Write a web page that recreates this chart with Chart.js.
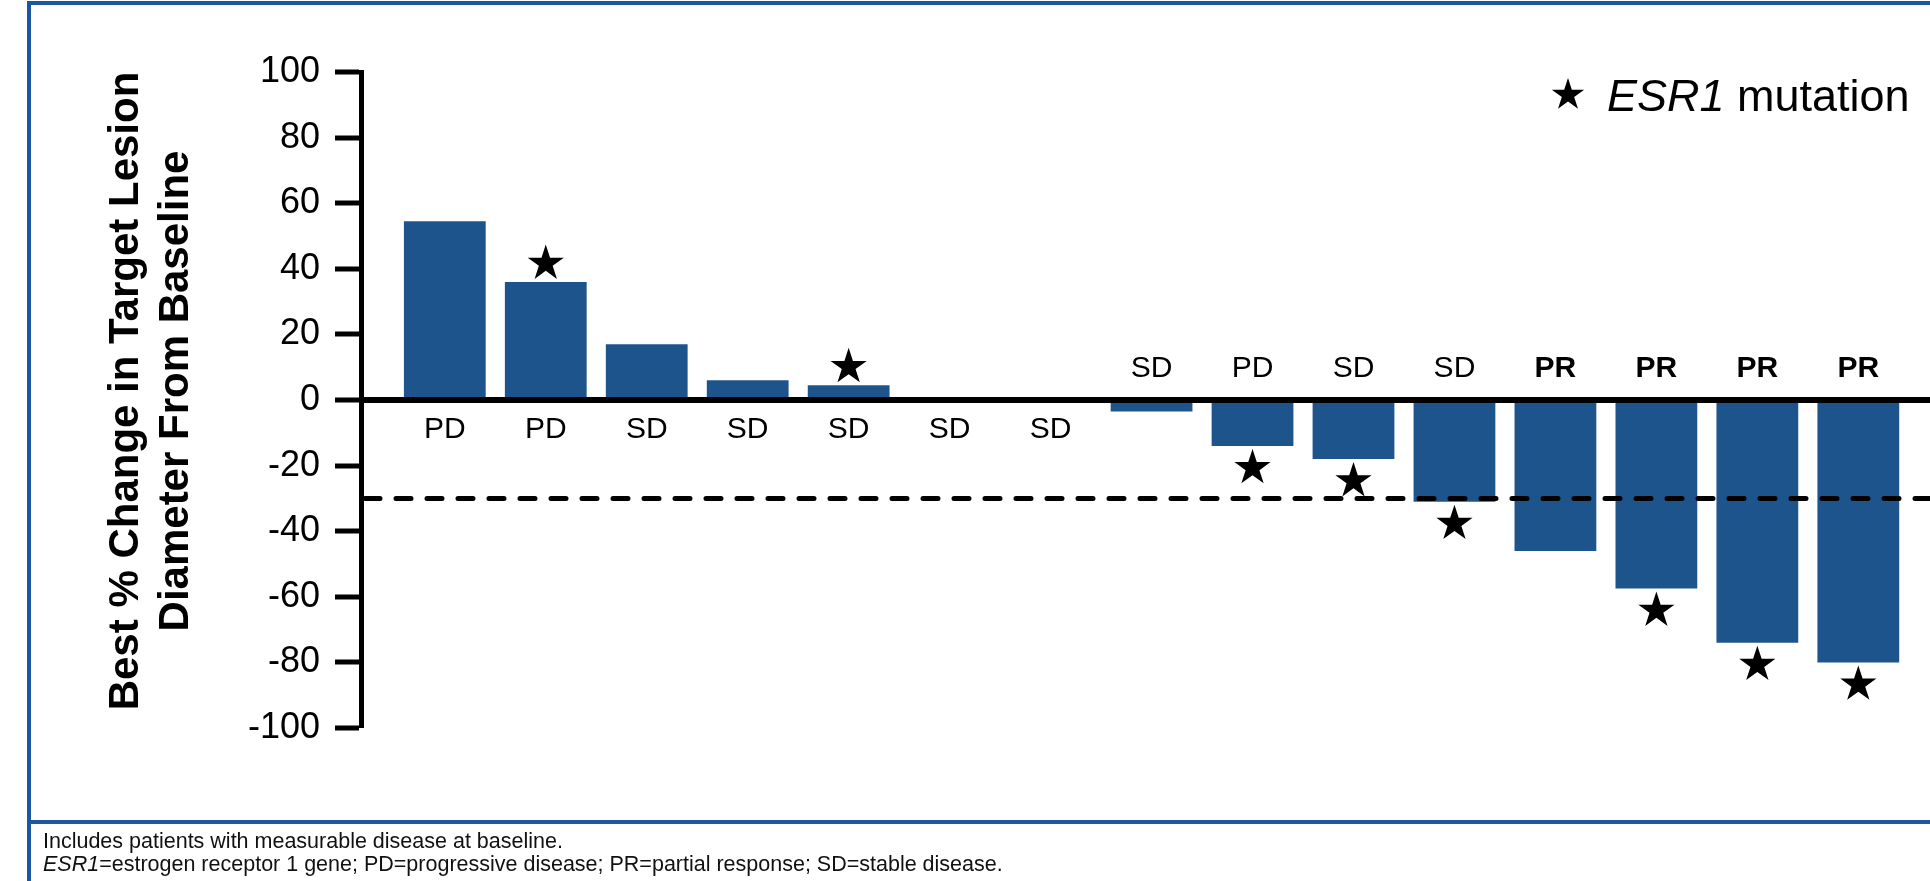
<!DOCTYPE html>
<html>
<head>
<meta charset="utf-8">
<title>Best % Change in Target Lesion Diameter</title>
<script src="https://cdn.jsdelivr.net/npm/chart.js@4.4.1/dist/chart.umd.min.js"></script>
<style>
  body { margin: 0; background: #fff; }
  #wrap { position: relative; width: 1930px; height: 881px; overflow: hidden; font-family: 'Liberation Sans', Arial, sans-serif; }
  #waterfallChart { position: absolute; left: 0; top: 0; }
  .frame { position: absolute; background: #1c58a0; }
  .notes { position: absolute; left: 43px; top: 830px; font-size: 21.5px; line-height: 23px; color: #111; white-space: nowrap; }
</style>
</head>
<body>
<div id="wrap">
  <canvas id="waterfallChart" width="1930" height="881"></canvas>
  <div class="frame" style="left:27px; top:1px; width:1903px; height:4px;"></div>
  <div class="frame" style="left:27px; top:1px; width:4px; height:880px;"></div>
  <div class="frame" style="left:27px; top:820px; width:1903px; height:4px;"></div>
  <div class="notes">
    Includes patients with measurable disease at baseline.<br>
    <i>ESR1</i>=estrogen receptor 1 gene; PD=progressive disease; PR=partial response; SD=stable disease.
  </div>
</div>
<script>
// Best response per patient (waterfall)
const responses = ['PD', 'PD', 'SD', 'SD', 'SD', 'SD', 'SD', 'SD', 'PD', 'SD', 'SD', 'PR', 'PR', 'PR', 'PR'];
const changes = [54.5, 36, 17, 6, 4.5, 0, 0, -3.5, -14, -18, -31, -46, -57.5, -74, -80];
const esr1Mutation = [false, true, false, false, true, false, false, false, true, true, true, false, true, true, true];
const yMin = -100;
const yMax = 100;
const yStep = 20;
const responseLine = -30;
const yTitle = ['Best % Change in Target Lesion', 'Diameter From Baseline'];

const FONT = "'Liberation Sans', Arial, sans-serif";
const BAR_BLUE = '#1e548c';

function drawStar(ctx, cx, cy, R) {
    const r = R * 0.382;
    ctx.beginPath();
    for (let i = 0; i < 10; i++) {
        const rad = i % 2 === 0 ? R : r;
        const a = -Math.PI / 2 + i * Math.PI / 5;
        ctx.lineTo(cx + rad * Math.cos(a), cy + rad * Math.sin(a));
    }
    ctx.closePath();
    ctx.fill();
}

// dashed -30% line, ESR1 stars and response labels
const annotations = {
    id: 'annotations',
    afterDatasetsDraw(chart) {
        const ctx = chart.ctx;
        const area = chart.chartArea;
        const yScale = chart.scales.y;
        const bars = chart.getDatasetMeta(0).data;

        // PR threshold
        const yDash = yScale.getPixelForValue(responseLine);
        ctx.save();
        ctx.strokeStyle = '#000';
        ctx.lineWidth = 5;
        ctx.lineCap = 'round';
        ctx.setLineDash([15, 16]);
        ctx.beginPath();
        ctx.moveTo(area.left + 4, yDash);
        ctx.lineTo(area.right, yDash);
        ctx.stroke();
        ctx.restore();

        // stars
        const R = 19;
        ctx.save();
        ctx.fillStyle = '#000';
        bars.forEach((bar, i) => {
            if (!esr1Mutation[i]) return;
            if (changes[i] >= 0) {
                drawStar(ctx, bar.x, bar.y - 3 - 0.809 * R, R);
            } else {
                drawStar(ctx, bar.x, bar.y + 3 + R, R);
            }
        });
        ctx.restore();

        // response labels
        const y0 = yScale.getPixelForValue(0);
        ctx.save();
        ctx.fillStyle = '#000';
        ctx.textAlign = 'center';
        ctx.textBaseline = 'alphabetic';
        bars.forEach((bar, i) => {
            const bold = responses[i] === 'PR' ? 'bold ' : '';
            ctx.font = bold + '30px ' + FONT;
            const y = changes[i] < 0 ? y0 - 23 : y0 + 38;
            ctx.fillText(responses[i], bar.x, y);
        });
        ctx.restore();
    },
    afterDraw(chart) {
        const ctx = chart.ctx;
        const area = chart.chartArea;

        // y axis title, two rotated lines
        ctx.save();
        ctx.fillStyle = '#000';
        ctx.font = 'bold 42px ' + FONT;
        ctx.textAlign = 'center';
        ctx.textBaseline = 'middle';
        const midY = (area.top + area.bottom) / 2 - 9;
        [126, 176].forEach((x, i) => {
            ctx.save();
            ctx.translate(x, midY);
            ctx.rotate(-Math.PI / 2);
            ctx.fillText(yTitle[i], 0, 0);
            ctx.restore();
        });
        ctx.restore();

        // legend: star + ESR1 mutation
        ctx.save();
        ctx.fillStyle = '#000';
        drawStar(ctx, 1568, 95, 17);
        ctx.textBaseline = 'alphabetic';
        ctx.textAlign = 'left';
        ctx.font = 'italic 45px ' + FONT;
        ctx.fillText('ESR1', 1607, 111);
        const w = ctx.measureText('ESR1').width;
        ctx.font = '45px ' + FONT;
        ctx.fillText(' mutation', 1607 + w, 111);
        ctx.restore();
    }
};

const ctx = document.getElementById('waterfallChart').getContext('2d');
const waterfallChart = new Chart(ctx, {
    type: 'bar',
    data: {
        datasets: [{
            data: changes.map((v, i) => ({ x: i, y: v })),
            backgroundColor: BAR_BLUE,
            borderWidth: 0,
            barPercentage: 0.9,
            categoryPercentage: 0.9
        }]
    },
    options: {
        responsive: false,
        animation: false,
        layout: {
            padding: { top: 72, bottom: 153, left: 0, right: 0 }
        },
        plugins: {
            legend: { display: false },
            tooltip: { enabled: false }
        },
        scales: {
            x: {
                type: 'linear',
                display: false,
                offset: false,
                min: -0.83,
                max: 14.71,
                ticks: { stepSize: 1, includeBounds: false }
            },
            y: {
                min: yMin,
                max: yMax,
                z: 1,
                afterFit(scale) { scale.width = 361; },
                ticks: {
                    stepSize: yStep,
                    color: '#000',
                    padding: 15,
                    font: { size: 36, family: FONT }
                },
                grid: {
                    drawOnChartArea: true,
                    color: c => (c.tick && c.tick.value === 0 ? '#000' : 'rgba(0,0,0,0)'),
                    lineWidth: c => (c.tick && c.tick.value === 0 ? 6 : 0),
                    tickColor: '#000',
                    tickWidth: 5,
                    tickLength: 26
                },
                border: { display: true, color: '#000', width: 5 },
                title: { display: false }
            }
        }
    },
    plugins: [annotations]
});
</script>
</body>
</html>
